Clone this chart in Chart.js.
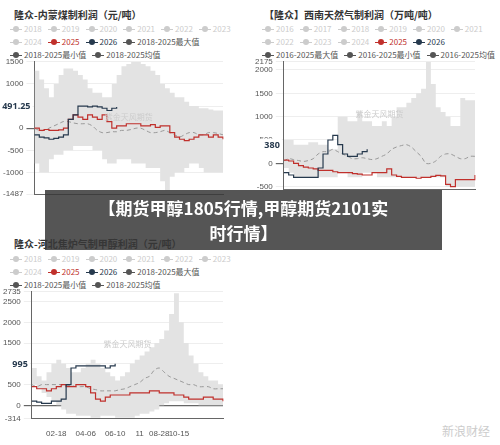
<!DOCTYPE html>
<html><head><meta charset="utf-8">
<script src="https://cdn.jsdelivr.net/npm/chart.js@4"></script>
<style>
body{margin:0;width:500px;height:445px;background:#fff;font-family:"Noto Sans CJK SC","Noto Sans",sans-serif;position:relative;overflow:hidden}
.box{position:absolute}
.t{position:absolute;font-size:10px;font-weight:bold;color:#333}
.lg{position:absolute;font-size:8px;color:#ccc;line-height:13px;width:230px}
.lg span{margin-right:6px;white-space:nowrap}
.lg i{display:inline-block;width:12px;height:1px;background:currentColor;position:relative;vertical-align:middle;margin-right:2px}
.lg i:after{content:"";position:absolute;left:3px;top:-3px;width:6px;height:6px;border-radius:50%;background:currentColor}
.r{color:#c0302c}.n{color:#26394d}.g{color:#555}
#banner{position:absolute;left:45px;top:190px;width:397px;height:60px;background:rgba(55,55,55,0.85);color:#fff;font-weight:bold;font-size:17px;line-height:25px;text-align:center;padding-top:5px;box-sizing:border-box}
.wm{position:absolute;right:10px;bottom:6px;font-size:12px;color:#ccc}
</style></head><body>
<div class="t" style="left:14px;top:7px">隆众-内蒙煤制利润（元/吨）</div>
<div class="lg" style="left:10px;top:22px"><span><i></i>2018</span><span><i></i>2019</span><span><i></i>2020</span><span><i></i>2021</span><span><i></i>2022</span><span><i></i>2023</span><br><span><i></i>2024</span><span class="r"><i></i>2025</span><span class="n"><i></i>2026</span><span class="g"><i></i>2018-2025最大值</span><br><span class="g"><i></i>2018-2025最小值</span><span class="g"><i></i>2018-2025均值</span></div>
<div class="t" style="left:264px;top:7px">【隆众】西南天然气制利润（万吨/吨）</div>
<div class="lg" style="left:262px;top:22px;width:240px"><span><i></i>2016</span><span><i></i>2017</span><span><i></i>2018</span><span><i></i>2019</span><span><i></i>2020</span><span><i></i>2021</span><br><span><i></i>2022</span><span><i></i>2023</span><span><i></i>2024</span><span class="r"><i></i>2025</span><span class="n"><i></i>2026</span><br><span class="g"><i></i>2016-2025最大值</span><span class="g"><i></i>2016-2025最小值</span><span class="g"><i></i>2016-2025均值</span></div>
<div class="t" style="left:14px;top:236px">隆众-河北焦炉气制甲醇利润（元/吨）</div>
<div class="lg" style="left:10px;top:252px"><span><i></i>2018</span><span><i></i>2019</span><span><i></i>2020</span><span><i></i>2021</span><span><i></i>2022</span><span><i></i>2023</span><br><span><i></i>2024</span><span class="r"><i></i>2025</span><span class="n"><i></i>2026</span><span class="g"><i></i>2018-2025最大值</span><br><span class="g"><i></i>2018-2025最小值</span><span class="g"><i></i>2018-2025均值</span></div>
<div class="box" style="left:0;top:54px;width:235px;height:148px"><canvas id="c1"></canvas></div>
<div class="box" style="left:252px;top:54px;width:235px;height:143px"><canvas id="c2"></canvas></div>
<div class="box" style="left:0;top:284px;width:235px;height:158px"><canvas id="c3"></canvas></div>
<div id="banner">【期货甲醇1805行情,甲醇期货2101实<br>时行情】</div>
<div class="wm">新浪财经</div>
<script>
const xLabels=["","","","","","02-18","","","","","","04-06","","","","","","06-10","","","","","11","","","","08-28","","","","10-15","","","","","","","","",""];
const c1Max=[1300,1100,900,700,1000,1200,1350,1350,1300,1200,1100,900,800,800,700,700,1000,1200,1400,1450,1500,1500,1450,1400,1300,1200,1000,900,800,700,700,600,500,500,450,450,420,400,400,400];
const c1Min=[-800,-1000,-1000,-700,-600,-600,-500,-500,-400,-400,-400,-400,-500,-500,-700,-800,-800,-700,-700,-700,-800,-800,-800,-900,-900,-900,-1200,-1400,-1100,-1000,-1000,-900,-800,-800,-900,-1000,-1000,-1000,-1000,-1000];
const c1Y25=[0,-50,-30,-50,-50,-40,0,200,300,250,200,300,250,200,300,150,0,50,50,100,100,100,50,50,80,20,50,50,-100,-200,-250,-280,-250,-200,-150,-150,-200,-150,-200,-250];
const c1Y26=[-150,-200,-220,-250,-230,-200,-150,200,300,500,500,480,500,480,450,400,450,480];
const c1Avg=[0,-50,-50,0,50,100,150,150,120,100,100,100,50,-50,-100,-100,-80,-80,-50,-50,-30,0,0,-50,-100,-100,-80,-50,-100,-150,-200,-150,-100,-100,-150,-150,-100,-100,-120,-150];
const c2Max=[500,500,400,400,400,450,450,400,400,300,300,1000,1000,900,900,1100,900,900,800,800,900,800,1000,1200,1200,1300,1400,1500,1600,2200,1700,1200,1100,1000,800,800,1400,1350,1350,1350];
const c2Min=[-100,-200,-300,-300,-300,-300,-300,-300,-300,-300,-300,-200,-200,-300,-300,-300,-200,-200,-200,-300,-300,-300,-300,-300,-300,-300,-300,-300,-300,-300,-300,-300,-300,-500,-500,-500,-500,-500,-500,-500];
const c2Y25=[70,50,0,-50,-80,-100,-120,-150,-150,-150,-180,-200,-200,-200,-220,-230,-250,-250,-200,-200,-200,-120,-250,-280,-300,-300,-300,-320,-300,-300,-280,-260,-270,-450,-500,-350,-350,-350,-350,-250];
const c2Y26=[-200,-250,-300,-300,-300,-300,-300,-100,200,500,600,400,200,150,150,200,250,300];
const c2Avg=[50,100,80,60,40,60,100,200,250,250,300,250,200,150,100,100,120,100,80,100,150,200,300,350,380,400,350,250,150,0,0,50,150,200,200,150,100,100,150,150];
const c3Max=[900,700,600,800,1000,1100,1000,900,800,800,900,1000,1100,1000,900,800,700,600,700,800,1000,1100,1200,1300,1400,1500,1600,1800,2200,2700,2000,1500,1200,1000,800,700,600,600,500,500];
const c3Min=[500,400,300,200,100,0,-100,-200,-200,-250,-250,-250,-300,-300,-250,-250,-250,-300,-300,-300,-300,-250,-200,-200,-150,-100,0,50,100,100,100,50,50,50,0,0,0,0,0,0];
const c3Y25=[450,400,400,350,400,450,500,450,450,500,500,450,300,150,100,200,250,250,250,250,300,300,300,300,350,350,300,300,300,250,250,200,150,150,150,200,200,150,150,100];
const c3Y26=[100,80,50,50,100,100,150,500,900,950,950,950,950,950,950,900,950,1000];
const c3Avg=[500,450,500,500,500,500,500,480,480,450,450,450,400,380,350,350,350,350,380,400,450,500,550,650,700,850,900,800,700,650,600,550,500,500,450,450,450,400,400,400];

function mk(id,mx,mn,y25,y26,avg,ymin,ymax,ticks,mark,showX){
  const wm={id:'wm',afterDraw(c){const a=c.chartArea,x=c.ctx;x.save();x.font='8px "Noto Sans CJK SC"';x.fillStyle='#ccc';x.textAlign='center';x.fillText('紫金天风期货',(a.left+a.right)/2,(a.top+a.bottom)/2-8);
    const y=c.scales.y.getPixelForValue(mark);x.font='bold 9px "Noto Sans"';x.fillStyle='#fff';x.fillRect(a.left-36,y-7,34,14);x.fillStyle='#26394d';x.textAlign='right';x.textBaseline='middle';x.fillText(String(mark),a.left-4,y);x.restore();}};
  new Chart(document.getElementById(id),{type:'line',data:{labels:xLabels,datasets:[
    {data:mx,borderWidth:0,pointRadius:0,stepped:true,backgroundColor:'#e3e3e3',fill:'+1',order:10},
    {data:mn,borderWidth:0,pointRadius:0,stepped:true,fill:false,order:9},
    {data:avg,borderColor:'#999',borderDash:[4,3],borderWidth:1,pointRadius:0,tension:0.3,order:3},
    {data:y25,borderColor:'#c0302c',borderWidth:1.2,pointRadius:0,stepped:true,order:2},
    {data:y26,borderColor:'#26394d',borderWidth:1.2,pointRadius:0,stepped:true,order:1}]},
   options:{animation:false,responsive:true,maintainAspectRatio:false,plugins:{legend:{display:false},tooltip:{enabled:false},filler:{drawTime:'beforeDatasetsDraw'}},
    layout:{padding:{right:12,top:4}},
    scales:{x:{grid:{display:false},border:{color:'#666'},ticks:{display:showX,autoSkip:false,maxRotation:0,color:'#555',font:{size:8}}},
     y:{min:ymin,max:ymax,afterBuildTicks(s){s.ticks=ticks.map(v=>({value:v}));},
      grid:{color:c=>c.tick&&c.tick.value===0?'#666':'#eee',lineWidth:c=>c.tick&&c.tick.value===0?1.2:1},border:{color:'#666'},ticks:{color:'#555',font:{size:8},padding:3,callback:v=>String(v)}}}},
   plugins:[wm]});
}
mk('c1',c1Max,c1Min,c1Y25,c1Y26,c1Avg,-1487,1500,[-1487,-1000,-500,0,500,1000,1500],491.25,false);
mk('c2',c2Max,c2Min,c2Y25,c2Y26,c2Avg,-550,2175,[-500,0,500,1000,1500,2000,2175],380,false);
mk('c3',c3Max,c3Min,c3Y25,c3Y26,c3Avg,-314,2735,[-314,0,500,1000,1500,2000,2500,2735],995,true);
</script></body></html>
